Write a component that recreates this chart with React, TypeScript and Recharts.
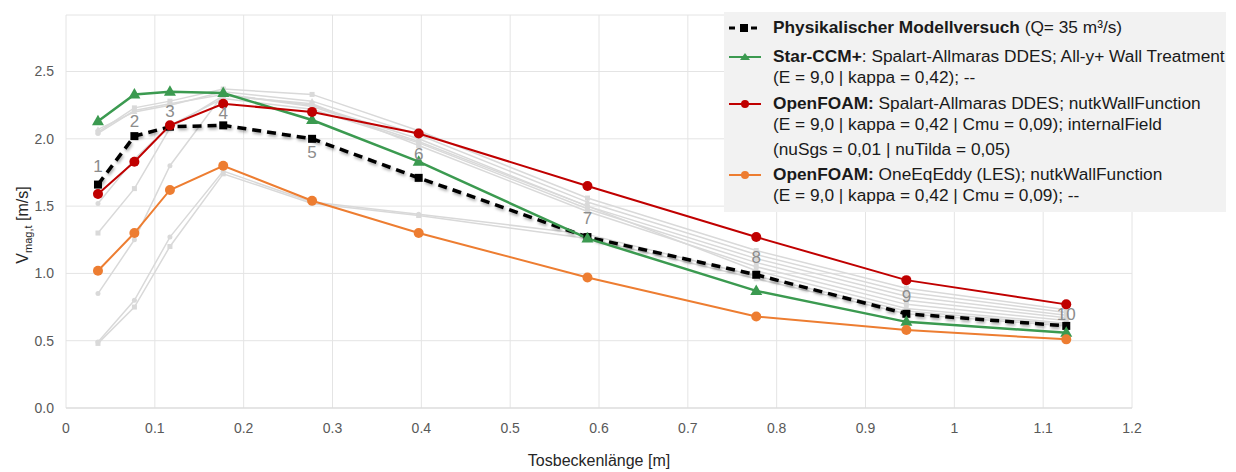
import React from "react";
import {
  LineChart,
  Line,
  XAxis,
  YAxis,
  CartesianGrid,
  LabelList,
} from "recharts";

// measuring positions along the stilling basin [m]
const positions = [0.036, 0.077, 0.117, 0.177, 0.277, 0.397, 0.587, 0.777, 0.946, 1.126];
const pointNames = ["1", "2", "3", "4", "5", "6", "7", "8", "9", "10"];
const pointNameY = [1.8, 2.13, 2.21, 2.19, 1.9, 1.89, 1.41, 1.12, 0.83, 0.7];

const modell = [1.66, 2.02, 2.09, 2.1, 2.0, 1.71, 1.27, 0.99, 0.7, 0.61];
const starCcm = [2.13, 2.33, 2.35, 2.34, 2.14, 1.83, 1.26, 0.87, 0.64, 0.56];
const ofDdes = [1.59, 1.83, 2.1, 2.26, 2.2, 2.04, 1.65, 1.27, 0.95, 0.77];
const ofLes = [1.02, 1.3, 1.62, 1.8, 1.54, 1.3, 0.97, 0.68, 0.58, 0.51];

// other simulation runs (grey in background)
const grey1 = [2.05, 2.23, 2.28, 2.37, 2.33, 2.06, 1.56, 1.17, 0.89, 0.73];
const grey2 = [2.07, 2.2, 2.25, 2.35, 2.28, 2.03, 1.53, 1.14, 0.86, 0.71];
const grey3 = [2.04, 2.21, 2.26, 2.33, 2.25, 2.0, 1.5, 1.11, 0.83, 0.69];
const grey4 = [1.52, 1.85, 2.1, 2.3, 2.22, 1.97, 1.48, 1.08, 0.8, 0.67];
const grey5 = [1.3, 1.63, 2.08, 2.32, 2.26, 1.95, 1.46, 1.05, 0.77, 0.65];
const grey6 = [0.85, 1.25, 1.8, 2.33, 2.24, 1.98, 1.5, 1.02, 0.74, 0.63];
const grey7 = [0.49, 0.8, 1.27, 1.76, 1.53, 1.44, 1.29, 0.98, 0.72, 0.62];
const grey8 = [0.48, 0.75, 1.2, 1.74, 1.52, 1.43, 1.26, 0.96, 0.7, 0.61];
const greys = [grey1, grey2, grey3, grey4, grey5, grey6, grey7, grey8];
const greyShapes = ["square", "triangle", "circle", "circle", "square", "circle", "circle", "square"];

const xTicks = [0, 0.1, 0.2, 0.3, 0.4, 0.5, 0.6, 0.7, 0.8, 0.9, 1, 1.1, 1.2];
const yTicks = [0, 0.5, 1.0, 1.5, 2.0, 2.5];

const data = positions.map((x, i) => {
  const row: any = {
    x,
    modell: modell[i],
    star: starCcm[i],
    ofDdes: ofDdes[i],
    ofLes: ofLes[i],
    nameY: pointNameY[i],
    name: pointNames[i],
  };
  greys.forEach((g, j) => {
    row["g" + j] = g[i];
  });
  return row;
});

const GREY = "#d9d9d9";
const GREEN = "#3b9a50";
const RED = "#c00000";
const ORANGE = "#ed7d31";
const FONT = "'Liberation Sans', Arial, sans-serif";

function shapeDot(shape: string, color: string, s: number) {
  return (props: any) => {
    const { cx, cy, index } = props;
    if (cx == null || cy == null) return <g key={index} />;
    if (shape === "square")
      return <rect key={index} x={cx - s} y={cy - s} width={2 * s} height={2 * s} fill={color} />;
    if (shape === "triangle")
      return (
        <polygon
          key={index}
          points={`${cx},${cy - s * 1.3} ${cx - s * 1.2},${cy + s * 0.8} ${cx + s * 1.2},${cy + s * 0.8}`}
          fill={color}
        />
      );
    return <circle key={index} cx={cx} cy={cy} r={s} fill={color} />;
  };
}

const yTitle = () => (
  <text
    transform="translate(20,217) rotate(-90)"
    textAnchor="middle"
    fontFamily={FONT}
    fontSize={16}
    fill="#262626"
  >
    V
    <tspan fontSize={11} dy={4}>mag,t</tspan>
    <tspan dy={-4}> [m/s]</tspan>
  </text>
);

function LegendSymbol({ kind }: { kind: string }) {
  return (
    <svg width={36} height={12} style={{ position: "absolute", left: 0, top: 5 }}>
      {kind === "modell" ? (
        <>
          <line x1={2} y1={6} x2={34} y2={6} stroke="#000" strokeWidth={3} strokeDasharray="6 5" />
          <rect x={13} y={2} width={8} height={8} fill="#000" />
        </>
      ) : (
        <>
          <line x1={2} y1={6} x2={34} y2={6} stroke={kind} strokeWidth={2} />
          {kind === GREEN ? (
            <polygon points="18,2 13,9 23,9" fill={kind} />
          ) : (
            <circle cx={18} cy={6} r={4} fill={kind} />
          )}
        </>
      )}
    </svg>
  );
}

function LegendBox() {
  const line: React.CSSProperties = { position: "relative", paddingLeft: 46, height: 21, lineHeight: "21px", whiteSpace: "nowrap" };
  return (
    <div
      style={{
        position: "absolute",
        left: 716,
        top: 4,
        width: 502,
        height: 200,
        background: "#f2f2f2",
        fontFamily: FONT,
        fontSize: 17.3,
        color: "#1a1a1a",
      }}
    >
      <div style={{ position: "absolute", left: 3, top: 5 }}>
        <div style={line}>
          <LegendSymbol kind="modell" />
          <b>Physikalischer Modellversuch</b> (Q= 35 m³/s)
        </div>
      </div>
      <div style={{ position: "absolute", left: 3, top: 34 }}>
        <div style={line}>
          <LegendSymbol kind={GREEN} />
          <b>Star-CCM+</b>: Spalart-Allmaras DDES; All-y+ Wall Treatment
        </div>
        <div style={line}>(E = 9,0 | kappa = 0,42); --</div>
      </div>
      <div style={{ position: "absolute", left: 3, top: 81 }}>
        <div style={line}>
          <LegendSymbol kind={RED} />
          <b>OpenFOAM:</b> Spalart-Allmaras DDES; nutkWallFunction
        </div>
        <div style={line}>(E = 9,0 | kappa = 0,42 | Cmu = 0,09); internalField</div>
        <div style={{ ...line, marginTop: 4 }}>(nuSgs = 0,01 | nuTilda = 0,05)</div>
      </div>
      <div style={{ position: "absolute", left: 3, top: 152 }}>
        <div style={line}>
          <LegendSymbol kind={ORANGE} />
          <b>OpenFOAM:</b> OneEqEddy (LES); nutkWallFunction
        </div>
        <div style={line}>(E = 9,0 | kappa = 0,42 | Cmu = 0,09); --</div>
      </div>
    </div>
  );
}

export default function App() {
  return (
    <div style={{ position: "relative", width: 1220, height: 464 }}>
      <LineChart
        width={1220}
        height={464}
        data={data}
        margin={{ top: 7, right: 96, left: 0, bottom: 0 }}
      >
        <defs>
          <filter id="dashShadow" x="-5%" y="-20%" width="110%" height="140%">
            <feDropShadow dx="1" dy="2" stdDeviation="1.5" floodColor="#000" floodOpacity="0.35" />
          </filter>
        </defs>
        <CartesianGrid stroke="#e4e4e4" verticalValues={xTicks} />
        <XAxis
          type="number"
          dataKey="x"
          domain={[0, 1.2]}
          ticks={xTicks}
          tickFormatter={(v) => String(v)}
          height={64}
          axisLine={{ stroke: "#d9d9d9" }}
          tickLine={false}
          tick={{ fontSize: 14, fill: "#595959", fontFamily: FONT }}
          tickMargin={9}
          label={{
            value: "Tosbeckenlänge [m]",
            position: "insideBottom",
            offset: 6,
            style: { fontSize: 16, fill: "#262626", fontFamily: FONT },
          }}
        />
        <YAxis
          type="number"
          domain={[0, 2.92]}
          ticks={yTicks}
          tickFormatter={(v) => v.toFixed(1)}
          width={58}
          axisLine={false}
          tickLine={false}
          tick={{ fontSize: 14, fill: "#595959", fontFamily: FONT }}
          tickMargin={6}
          label={{ content: yTitle }}
        />
        {greys.map((_, j) => (
          <Line
            key={"g" + j}
            dataKey={"g" + j}
            stroke={GREY}
            strokeWidth={1.5}
            dot={shapeDot(greyShapes[j], GREY, 2.5)}
            activeDot={false}
            isAnimationActive={false}
          />
        ))}
        <Line
          dataKey="modell"
          stroke="#000"
          strokeWidth={3.5}
          strokeDasharray="9 6"
          filter="url(#dashShadow)"
          dot={shapeDot("square", "#000", 4)}
          activeDot={false}
          isAnimationActive={false}
        />
        <Line
          dataKey="star"
          stroke={GREEN}
          strokeWidth={2.5}
          dot={shapeDot("triangle", GREEN, 5)}
          activeDot={false}
          isAnimationActive={false}
        />
        <Line
          dataKey="ofDdes"
          stroke={RED}
          strokeWidth={2}
          dot={shapeDot("circle", RED, 5)}
          activeDot={false}
          isAnimationActive={false}
        />
        <Line
          dataKey="ofLes"
          stroke={ORANGE}
          strokeWidth={2}
          dot={shapeDot("circle", ORANGE, 5)}
          activeDot={false}
          isAnimationActive={false}
        />
        <Line
          dataKey="nameY"
          stroke="none"
          dot={false}
          activeDot={false}
          isAnimationActive={false}
        >
          <LabelList
            dataKey="name"
            position="center"
            style={{ fontSize: 17, fill: "#8c8c8c", fontFamily: FONT }}
          />
        </Line>
      </LineChart>
      <LegendBox />
    </div>
  );
}
